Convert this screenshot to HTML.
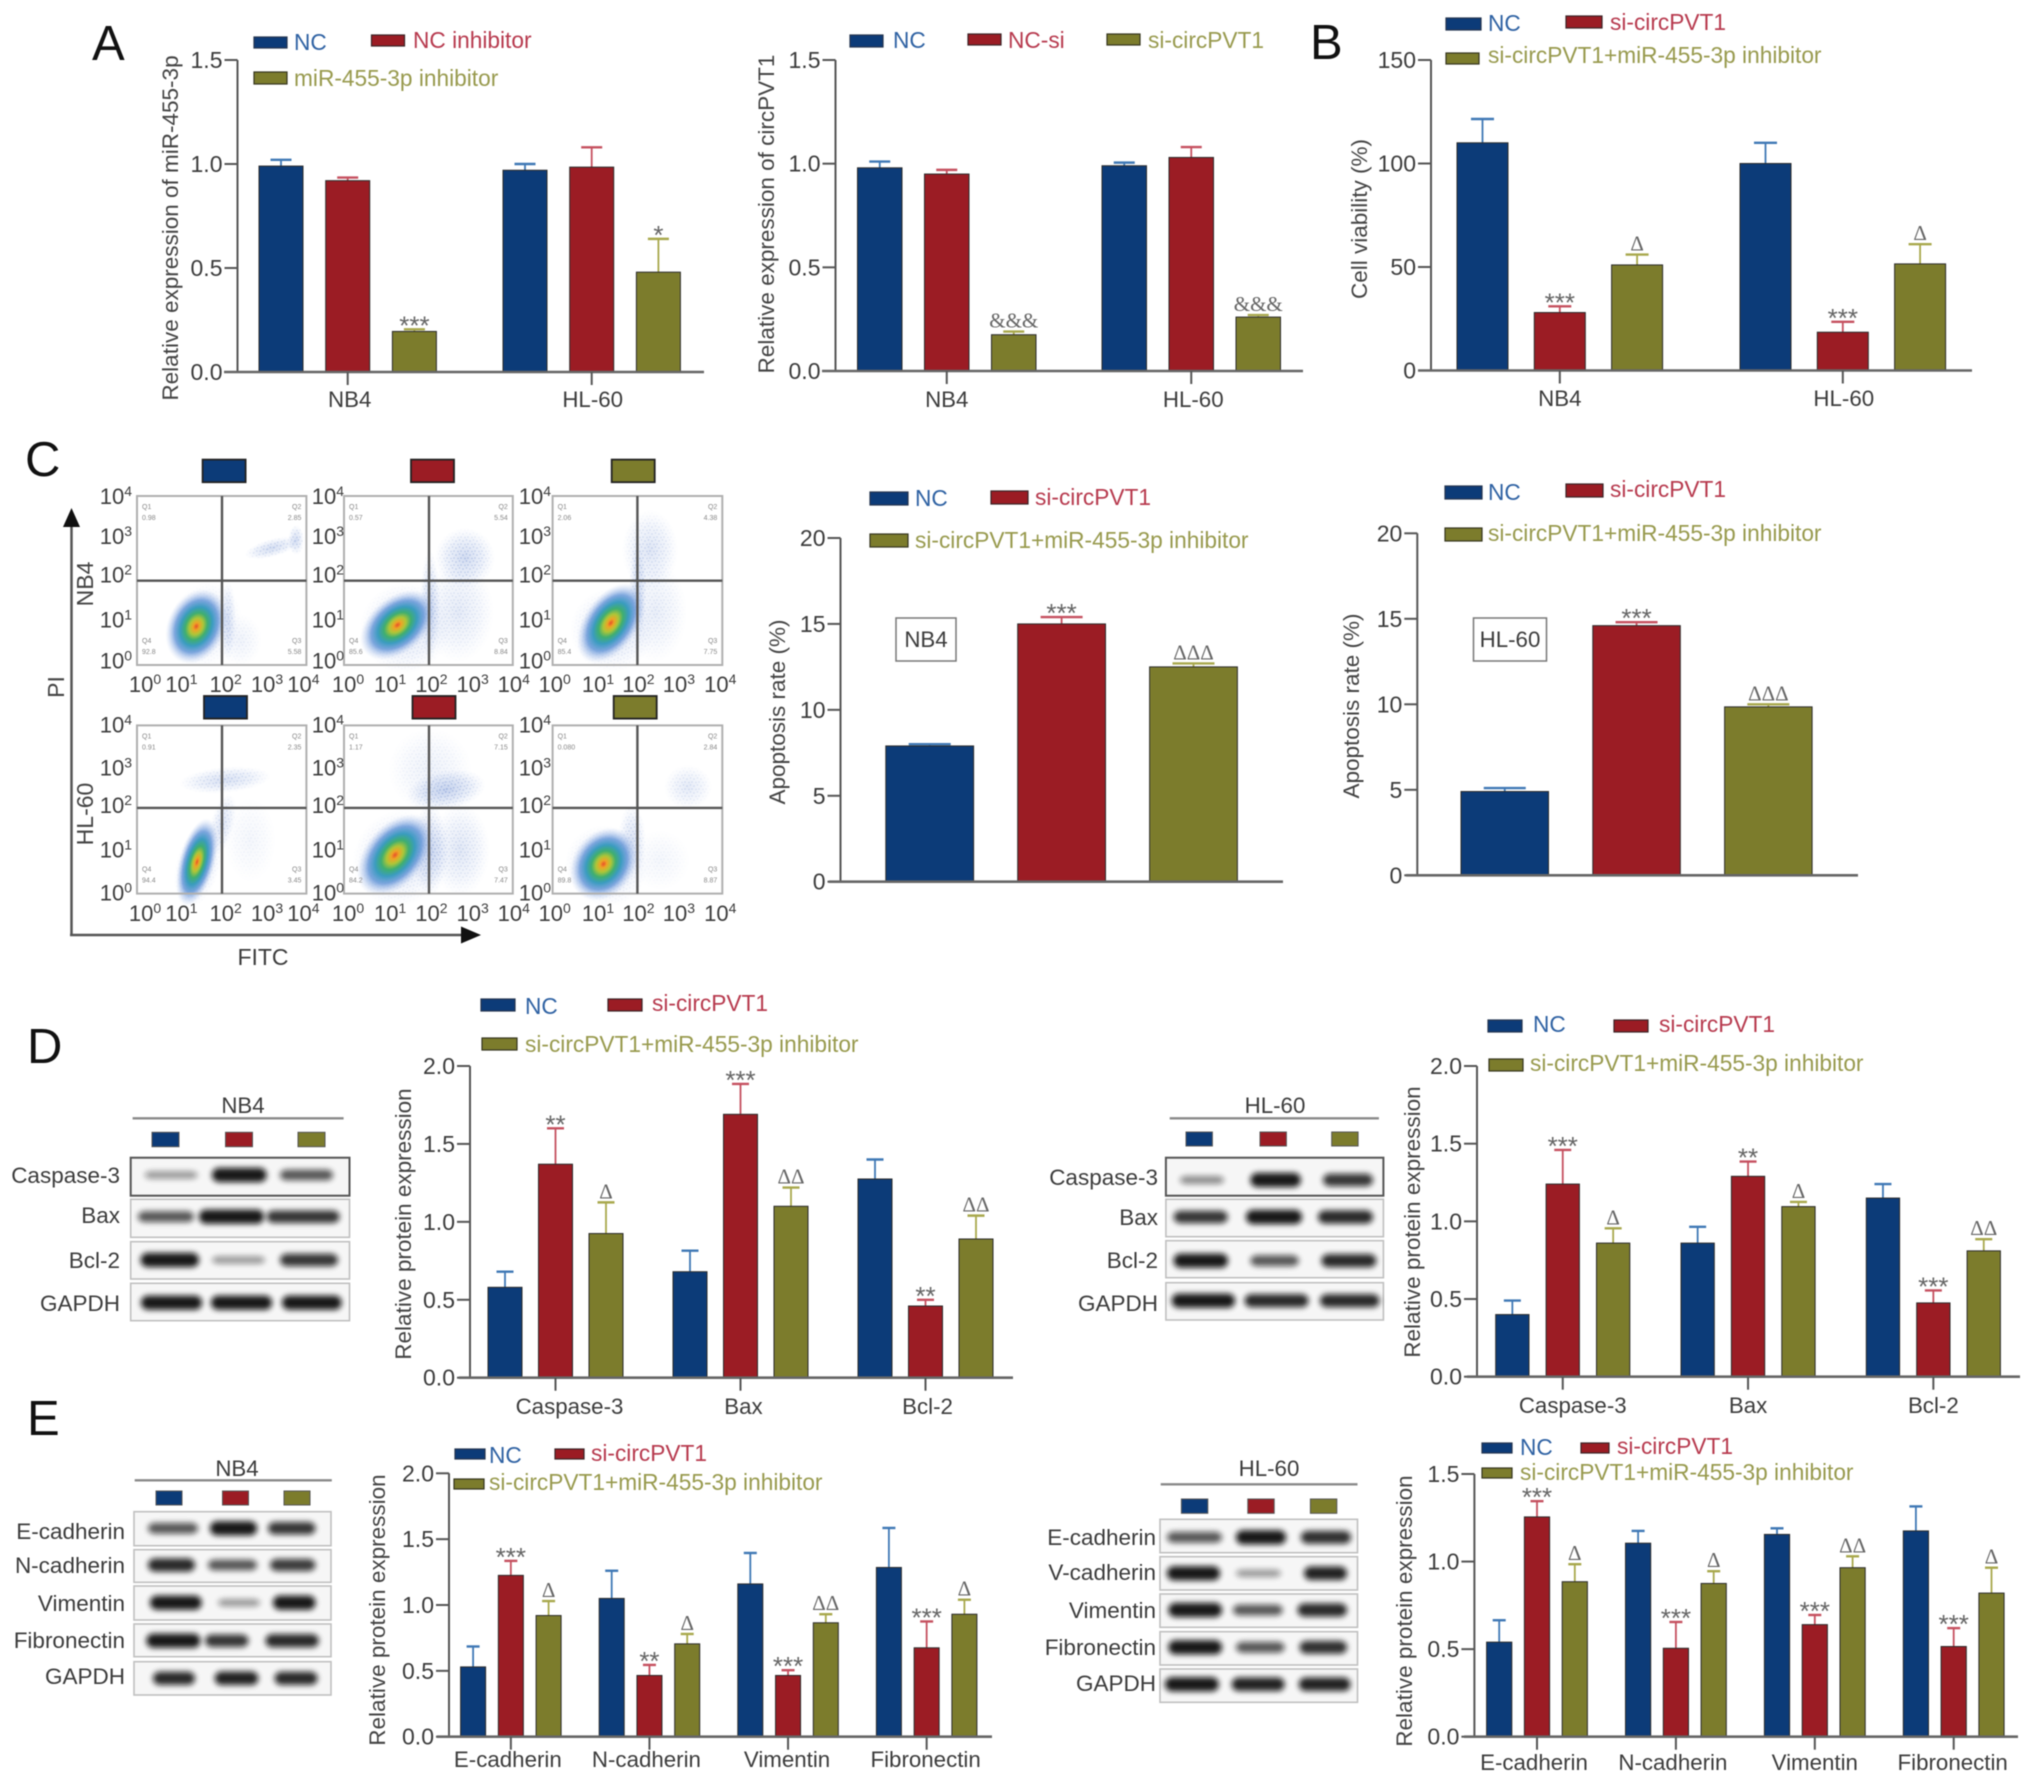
<!DOCTYPE html>
<html lang="en">
<head>
<meta charset="utf-8">
<title>circPVT1 / miR-455-3p multi-panel figure</title>
<style>
html,body{margin:0;padding:0;background:#fff;}
#fig{display:block;filter:blur(.6px);}
text{font-family:"Liberation Sans",sans-serif;fill:#3c3c3c;}
.letter{font-size:49px;fill:#111;}
.leg{font-size:22.7px;}
.lb{fill:#2f62a3;}
.lr{fill:#b73a4e;}
.lo{fill:#989a4e;}
.ytitle{font-size:22.5px;text-anchor:middle;fill:#444;}
.blot{font-size:22.5px;text-anchor:end;fill:#3c3c3c;}
.head{font-size:22.3px;text-anchor:middle;fill:#3c3c3c;}
.swb{fill:#0c3b78;stroke:#26364f;stroke-width:1.2;}
.swr{fill:#9b1c24;stroke:#3a2326;stroke-width:1.2;}
.swo{fill:#7c7c2c;stroke:#35351f;stroke-width:1.2;}
</style>
</head>
<body>
<svg id="fig" xmlns="http://www.w3.org/2000/svg" width="2032" height="1784" viewBox="0 0 2032 1784">
<defs>
<filter id="bandBlur" x="-20%" y="-100%" width="140%" height="300%"><feGaussianBlur stdDeviation="2.9"/></filter>
<radialGradient id="heat">
<stop offset="0" stop-color="#e8502a"/>
<stop offset=".1" stop-color="#eda526"/>
<stop offset=".22" stop-color="#aec638"/>
<stop offset=".36" stop-color="#3fae70"/>
<stop offset=".52" stop-color="#3a9cbf"/>
<stop offset=".7" stop-color="#5f92d6" stop-opacity=".8"/>
<stop offset=".86" stop-color="#9ab6e6" stop-opacity=".4"/>
<stop offset="1" stop-color="#c2d2f0" stop-opacity="0"/>
</radialGradient>
<radialGradient id="cloud">
<stop offset="0" stop-color="#7d9ad6" stop-opacity=".85"/>
<stop offset=".6" stop-color="#9cb3e2" stop-opacity=".45"/>
<stop offset="1" stop-color="#c2d0f0" stop-opacity="0"/>
</radialGradient>
<radialGradient id="fadeWhite">
<stop offset="0" stop-color="#fff"/>
<stop offset=".6" stop-color="#999"/>
<stop offset="1" stop-color="#000"/>
</radialGradient>
<mask id="cloudFade" maskContentUnits="objectBoundingBox"><rect width="1" height="1" fill="url(#fadeWhite)"/></mask>
<pattern id="speck" patternUnits="userSpaceOnUse" width="7" height="7">
<circle cx="1" cy="2" r=".8" fill="#5f80c8"/><circle cx="4.5" cy="1" r=".7" fill="#5f80c8"/><circle cx="6" cy="5" r=".8" fill="#5f80c8"/><circle cx="3" cy="5.5" r=".7" fill="#5f80c8"/>
</pattern>
</defs>
<rect width="2032" height="1784" fill="#fff"/>

<text class="letter" x="92" y="60">A</text>
<text class="letter" x="1310" y="59">B</text>
<text class="letter" x="25" y="476">C</text>
<text class="letter" x="27" y="1063">D</text>
<text class="letter" x="27" y="1435">E</text>

<!-- Legends -->
<g>
<rect class="swb" x="254" y="37" width="33" height="11"/><text class="leg lb" x="294" y="50">NC</text>
<rect class="swr" x="371.5" y="35" width="33" height="11"/><text class="leg lr" x="413" y="48">NC inhibitor</text>
<rect class="swo" x="254" y="72" width="33" height="12"/><text class="leg lo" x="294" y="86">miR-455-3p inhibitor</text>
</g>
<g>
<rect class="swb" x="850" y="35" width="33" height="12"/><text class="leg lb" x="893" y="48">NC</text>
<rect class="swr" x="968" y="34" width="33" height="11"/><text class="leg lr" x="1008" y="48">NC-si</text>
<rect class="swo" x="1107" y="34" width="33" height="11"/><text class="leg lo" x="1148" y="48">si-circPVT1</text>
</g>
<g>
<rect class="swb" x="1446" y="18" width="35" height="12"/><text class="leg lb" x="1488" y="31">NC</text>
<rect class="swr" x="1566" y="16" width="36" height="12"/><text class="leg lr" x="1610" y="30">si-circPVT1</text>
<rect class="swo" x="1446" y="53" width="33" height="11"/><text class="leg lo" x="1488" y="63">si-circPVT1+miR-455-3p inhibitor</text>
</g>
<g>
<rect class="swb" x="870" y="492" width="38" height="13"/><text class="leg lb" x="915" y="506">NC</text>
<rect class="swr" x="991" y="491" width="37" height="13"/><text class="leg lr" x="1035" y="505">si-circPVT1</text>
<rect class="swo" x="870" y="534" width="38" height="13"/><text class="leg lo" x="915" y="548">si-circPVT1+miR-455-3p inhibitor</text>
</g>
<g>
<rect class="swb" x="1445" y="486" width="37" height="13"/><text class="leg lb" x="1488" y="500">NC</text>
<rect class="swr" x="1566" y="484" width="37" height="13"/><text class="leg lr" x="1610" y="497">si-circPVT1</text>
<rect class="swo" x="1445" y="528" width="37" height="13"/><text class="leg lo" x="1488" y="541">si-circPVT1+miR-455-3p inhibitor</text>
</g>
<g>
<rect class="swb" x="481" y="999" width="34" height="12"/><text class="leg lb" x="525" y="1014">NC</text>
<rect class="swr" x="608" y="999" width="34" height="12"/><text class="leg lr" x="652" y="1011">si-circPVT1</text>
<rect class="swo" x="482" y="1038" width="35" height="12"/><text class="leg lo" x="525" y="1052">si-circPVT1+miR-455-3p inhibitor</text>
</g>
<g>
<rect class="swb" x="1488" y="1020" width="34" height="12"/><text class="leg lb" x="1533" y="1032">NC</text>
<rect class="swr" x="1614" y="1020" width="34" height="12"/><text class="leg lr" x="1659" y="1032">si-circPVT1</text>
<rect class="swo" x="1489" y="1059" width="34" height="12"/><text class="leg lo" x="1530" y="1071">si-circPVT1+miR-455-3p inhibitor</text>
</g>
<g>
<rect class="swb" x="455" y="1449" width="30" height="10"/><text class="leg lb" x="489" y="1463">NC</text>
<rect class="swr" x="555" y="1449" width="29" height="10"/><text class="leg lr" x="591" y="1461">si-circPVT1</text>
<rect class="swo" x="454" y="1479" width="30" height="10"/><text class="leg lo" x="489" y="1490">si-circPVT1+miR-455-3p inhibitor</text>
</g>
<g>
<rect class="swb" x="1482" y="1443" width="30" height="10"/><text class="leg lb" x="1520" y="1455">NC</text>
<rect class="swr" x="1581" y="1443" width="28" height="10"/><text class="leg lr" x="1617" y="1454">si-circPVT1</text>
<rect class="swo" x="1482" y="1468" width="30" height="10"/><text class="leg lo" x="1520" y="1480">si-circPVT1+miR-455-3p inhibitor</text>
</g>

<!-- Y-axis titles -->
<text class="ytitle" transform="translate(178,228) rotate(-90)">Relative expression of miR-455-3p</text>
<text class="ytitle" transform="translate(774,214) rotate(-90)">Relative expression of circPVT1</text>
<text class="ytitle" transform="translate(1367,219) rotate(-90)">Cell viability (%)</text>
<text class="ytitle" transform="translate(785,712) rotate(-90)">Apoptosis rate (%)</text>
<text class="ytitle" transform="translate(1359,706) rotate(-90)">Apoptosis rate (%)</text>
<text class="ytitle" transform="translate(411,1224) rotate(-90)">Relative protein expression</text>
<text class="ytitle" transform="translate(1420,1222) rotate(-90)">Relative protein expression</text>
<text class="ytitle" transform="translate(385,1610) rotate(-90)">Relative protein expression</text>
<text class="ytitle" transform="translate(1412,1611) rotate(-90)">Relative protein expression</text>

<!-- Cell-line boxes on apoptosis charts -->
<rect x="896" y="618" width="60" height="43" fill="#fff" stroke="#777" stroke-width="1.5"/>
<text class="head" x="926" y="647">NB4</text>
<rect x="1473.5" y="618" width="73" height="43" fill="#fff" stroke="#777" stroke-width="1.5"/>
<text class="head" x="1510" y="647">HL-60</text>

<!-- Flow cytometry labels and arrows -->
<g>
<line x1="71.5" y1="935" x2="71.5" y2="525" stroke="#555" stroke-width="2.5"/>
<polygon points="71.5,508 63,527 80,527" fill="#111"/>
<line x1="70" y1="935" x2="465" y2="935" stroke="#555" stroke-width="2.5"/>
<polygon points="481,935 461,926.5 461,943.5" fill="#111"/>
<text class="ytitle" style="font-size:23px" transform="translate(64,687) rotate(-90)">PI</text>
<text class="head" style="font-size:23px" x="263" y="965">FITC</text>
<text class="ytitle" style="font-size:23px" transform="translate(93,584) rotate(-90)">NB4</text>
<text class="ytitle" style="font-size:23px" transform="translate(93,814) rotate(-90)">HL-60</text>
</g>

<!-- Blot labels -->
<g>
<text class="head" x="243" y="1113">NB4</text>
<text class="blot" x="120" y="1183">Caspase-3</text>
<text class="blot" x="120" y="1223">Bax</text>
<text class="blot" x="120" y="1268">Bcl-2</text>
<text class="blot" x="120" y="1311">GAPDH</text>
</g>
<g>
<text class="head" x="1275" y="1113">HL-60</text>
<text class="blot" x="1158" y="1185">Caspase-3</text>
<text class="blot" x="1158" y="1225">Bax</text>
<text class="blot" x="1158" y="1268">Bcl-2</text>
<text class="blot" x="1158" y="1311">GAPDH</text>
</g>
<g>
<text class="head" x="237" y="1476">NB4</text>
<text class="blot" x="125" y="1539">E-cadherin</text>
<text class="blot" x="125" y="1573">N-cadherin</text>
<text class="blot" x="125" y="1611">Vimentin</text>
<text class="blot" x="125" y="1648">Fibronectin</text>
<text class="blot" x="125" y="1684">GAPDH</text>
</g>
<g>
<text class="head" x="1269" y="1476">HL-60</text>
<text class="blot" x="1156" y="1545">E-cadherin</text>
<text class="blot" x="1156" y="1580">V-cadherin</text>
<text class="blot" x="1156" y="1618">Vimentin</text>
<text class="blot" x="1156" y="1655">Fibronectin</text>
<text class="blot" x="1156" y="1691">GAPDH</text>
</g>

<g id="blots"></g>
<g id="flow"></g>
<g id="charts"></g>
</svg>

<script>
/* ---------- Chart data ---------- */
const groupLabelsCells = ['NB4', 'HL-60'];
const groupLabelsApoptosis = ['Caspase-3', 'Bax', 'Bcl-2'];
const groupLabelsEmt = ['E-cadherin', 'N-cadherin', 'Vimentin', 'Fibronectin'];

const a1Nc = [0.99, 0.97];
const a1NcErr = [0.03, 0.03];
const a1Inh = [0.92, 0.985];
const a1InhErr = [0.015, 0.095];
const a1Mir = [0.195, 0.48];
const a1MirErr = [0.01, 0.16];
const a1MirMarks = ['***', '*'];
const a1Ticks = [0, 0.5, 1, 1.5];

const a2Nc = [0.98, 0.99];
const a2NcErr = [0.03, 0.015];
const a2Si = [0.95, 1.03];
const a2SiErr = [0.02, 0.05];
const a2Circ = [0.175, 0.26];
const a2CircErr = [0.015, 0.01];
const a2CircMarks = ['&&&', '&&&'];
const a2Ticks = [0, 0.5, 1, 1.5];

const bNc = [110, 100];
const bNcErr = [11.5, 10];
const bSi = [28, 18.5];
const bSiErr = [3, 5];
const bSiMarks = ['***', '***'];
const bCombo = [51, 51.5];
const bComboErr = [5, 9.5];
const bComboMarks = ['Δ', 'Δ'];
const bTicks = [0, 50, 100, 150];

const c1Nc = [7.9];
const c1NcErr = [0.1];
const c1Si = [15];
const c1SiErr = [0.4];
const c1SiMarks = ['***'];
const c1Combo = [12.5];
const c1ComboErr = [0.2];
const c1ComboMarks = ['ΔΔΔ'];
const c1Ticks = [0, 5, 10, 15, 20];

const c2Nc = [4.9];
const c2NcErr = [0.2];
const c2Si = [14.6];
const c2SiErr = [0.2];
const c2SiMarks = ['***'];
const c2Combo = [9.85];
const c2ComboErr = [0.15];
const c2ComboMarks = ['ΔΔΔ'];
const c2Ticks = [0, 5, 10, 15, 20];

const d1Nc = [0.58, 0.68, 1.275];
const d1NcErr = [0.1, 0.135, 0.125];
const d1Si = [1.37, 1.69, 0.46];
const d1SiErr = [0.23, 0.195, 0.04];
const d1SiMarks = ['**', '***', '**'];
const d1Combo = [0.925, 1.1, 0.89];
const d1ComboErr = [0.2, 0.12, 0.15];
const d1ComboMarks = ['Δ', 'ΔΔ', 'ΔΔ'];
const d1Ticks = [0, 0.5, 1, 1.5, 2];

const d2Nc = [0.4, 0.86, 1.15];
const d2NcErr = [0.09, 0.105, 0.09];
const d2Si = [1.24, 1.29, 0.475];
const d2SiErr = [0.22, 0.095, 0.08];
const d2SiMarks = ['***', '**', '***'];
const d2Combo = [0.86, 1.095, 0.81];
const d2ComboErr = [0.095, 0.03, 0.075];
const d2ComboMarks = ['Δ', 'Δ', 'ΔΔ'];
const d2Ticks = [0, 0.5, 1, 1.5, 2];

const e1Nc = [0.53, 1.05, 1.16, 1.285];
const e1NcErr = [0.155, 0.21, 0.235, 0.3];
const e1Si = [1.225, 0.465, 0.465, 0.675];
const e1SiErr = [0.11, 0.08, 0.04, 0.2];
const e1SiMarks = ['***', '**', '***', '***'];
const e1Combo = [0.92, 0.705, 0.865, 0.93];
const e1ComboErr = [0.11, 0.075, 0.065, 0.11];
const e1ComboMarks = ['Δ', 'Δ', 'ΔΔ', 'Δ'];
const e1Ticks = [0, 0.5, 1, 1.5, 2];

const e2Nc = [0.54, 1.105, 1.155, 1.175];
const e2NcErr = [0.125, 0.07, 0.035, 0.14];
const e2Si = [1.255, 0.505, 0.64, 0.515];
const e2SiErr = [0.09, 0.15, 0.055, 0.105];
const e2SiMarks = ['***', '***', '***', '***'];
const e2Combo = [0.885, 0.875, 0.965, 0.82];
const e2ComboErr = [0.1, 0.07, 0.065, 0.145];
const e2ComboMarks = ['Δ', 'Δ', 'ΔΔ', 'Δ'];
const e2Ticks = [0, 0.5, 1, 1.5];

const flowExponents = ['0', '1', '2', '3', '4'];
const flowGates = [
  ['0.98', '2.85', '92.8', '5.58'],
  ['0.57', '5.54', '85.6', '8.84'],
  ['2.06', '4.38', '85.4', '7.75'],
  ['0.91', '2.35', '94.4', '3.45'],
  ['1.17', '7.15', '84.2', '7.47'],
  ['0.080', '2.84', '89.8', '8.87']
];

/* ---------- Helpers ---------- */
const NS = 'http://www.w3.org/2000/svg';
const fillColors = ['#0c3b78', '#9b1c24', '#7c7c2c'];
const errColors = ['#3f78b5', '#c5505f', '#a8a84c'];
const seriesNames = ['nc', 'treatment', 'combo'];

function mk(tag, attrs, parent) {
  const e = document.createElementNS(NS, tag);
  for (const k in attrs) e.setAttribute(k, attrs[k]);
  parent.appendChild(e);
  return e;
}

function drawChart(c) {
  const root = document.getElementById('charts');
  const g = mk('g', {}, root);
  
  

  const L = c.layout;
  const yScale = v => L.base - (v / c.yMax) * (L.base - L.top);
  const xScale = (cat, ser) => L.first + cat * L.groupStep + ser * L.barStep;

  const yAxis = mk('line', {x1: L.axisX, x2: L.axisX, y1: L.top, y2: L.base, stroke: '#555', 'stroke-width': 2}, g);
  
  

  c.ticks.forEach(t => {
    const y = yScale(t);
    const tick = mk('line', {x1: L.axisX - 13, x2: L.axisX, y1: y, y2: y, stroke: '#555', 'stroke-width': 2}, g);
    
    
    const lab = mk('text', {x: L.axisX - 15, y: y + 8, 'text-anchor': 'end', 'font-size': 23}, g);
    lab.textContent = t.toFixed(L.decimals);
    
    
  });

  c.values.forEach((series, s) => {
    series.forEach((v, i) => {
      const x = xScale(i, s);
      const top = v + c.errors[s][i];
      const cx = x + L.barW / 2;
      const stem = mk('line', {x1: cx, x2: cx, y1: yScale(v), y2: yScale(top), stroke: errColors[s], 'stroke-width': 1.8}, g);
      
      
      const cap = mk('line', {x1: cx - L.cap / 2, x2: cx + L.cap / 2, y1: yScale(top), y2: yScale(top), stroke: errColors[s], 'stroke-width': 2.4}, g);
      
      
      const bar = mk('rect', {x: x, y: yScale(v), width: L.barW, height: L.base - yScale(v), fill: fillColors[s], stroke: '#2b2b2b', 'stroke-width': 1}, g);
      
      
      const m = c.marks[s] ? c.marks[s][i] : '';
      if (m) {
        const isStar = m.charAt(0) === '*';
        const attrs = {x: cx, y: yScale(top) + (isStar ? 5 : -4), 'text-anchor': 'middle', 'font-size': isStar ? 26 : 21};
        const mark = mk('text', attrs, g);
        mark.textContent = m;
        mark.style.fill = '#666';
        if (!isStar) mark.style.fontFamily = '"Liberation Serif", serif';
        
        
      }
    });
  });

  const xAxis = mk('line', {x1: L.baseStart, x2: L.baseEnd, y1: L.base, y2: L.base, stroke: '#666', 'stroke-width': 2.6}, g);
  
  

  (c.categories || []).forEach((name, i) => {
    const x = xScale(i, 1) + L.barW / 2;
    const tick = mk('line', {x1: x, x2: x, y1: L.base, y2: L.base + 13, stroke: '#555', 'stroke-width': 2}, g);
    
    
    const lab = mk('text', {x: x + (L.labelDx ? L.labelDx[i] : 0), y: L.labelY, 'text-anchor': 'middle', 'font-size': 22.3}, g);
    lab.textContent = name;
    
    
  });
}

/* ---------- Charts ---------- */
drawChart({id: 'a1', categories: groupLabelsCells, values: [a1Nc, a1Inh, a1Mir], errors: [a1NcErr, a1InhErr, a1MirErr], marks: [null, null, a1MirMarks], yMax: 1.5, ticks: a1Ticks,
  layout: {axisX: 237.5, top: 60, base: 372, first: 259, barW: 44, barStep: 66.7, groupStep: 244, cap: 21, baseStart: 224, baseEnd: 704, decimals: 1, labelY: 407, labelDx: [2, 1]}});
drawChart({id: 'a2', categories: groupLabelsCells, values: [a2Nc, a2Si, a2Circ], errors: [a2NcErr, a2SiErr, a2CircErr], marks: [null, null, a2CircMarks], yMax: 1.5, ticks: a2Ticks,
  layout: {axisX: 835.5, top: 60, base: 371, first: 857.5, barW: 44.5, barStep: 67, groupStep: 244.5, cap: 21, baseStart: 822, baseEnd: 1303, decimals: 1, labelY: 407, labelDx: [0, 2]}});
drawChart({id: 'b', categories: groupLabelsCells, values: [bNc, bSi, bCombo], errors: [bNcErr, bSiErr, bComboErr], marks: [null, bSiMarks, bComboMarks], yMax: 150, ticks: bTicks,
  layout: {axisX: 1431, top: 60, base: 370.5, first: 1457, barW: 51, barStep: 77.3, groupStep: 283, cap: 23, baseStart: 1418, baseEnd: 1972, decimals: 0, labelY: 406, labelDx: [0, 1]}});
drawChart({id: 'c1', values: [c1Nc, c1Si, c1Combo], errors: [c1NcErr, c1SiErr, c1ComboErr], marks: [null, c1SiMarks, c1ComboMarks], yMax: 20, ticks: c1Ticks,
  layout: {axisX: 840.5, top: 538, base: 881.7, first: 885.8, barW: 87.8, barStep: 131.9, groupStep: 0, cap: 42, baseStart: 829, baseEnd: 1283, decimals: 0}});
drawChart({id: 'c2', values: [c2Nc, c2Si, c2Combo], errors: [c2NcErr, c2SiErr, c2ComboErr], marks: [null, c2SiMarks, c2ComboMarks], yMax: 20, ticks: c2Ticks,
  layout: {axisX: 1417.3, top: 533.3, base: 875.3, first: 1461, barW: 87.5, barStep: 131.8, groupStep: 0, cap: 42, baseStart: 1406, baseEnd: 1858, decimals: 0}});
drawChart({id: 'd1', categories: groupLabelsApoptosis, values: [d1Nc, d1Si, d1Combo], errors: [d1NcErr, d1SiErr, d1ComboErr], marks: [null, d1SiMarks, d1ComboMarks], yMax: 2, ticks: d1Ticks,
  layout: {axisX: 470, top: 1066, base: 1377.7, first: 488, barW: 34, barStep: 50.5, groupStep: 185, cap: 17, baseStart: 459, baseEnd: 1013, decimals: 1, labelY: 1414, labelDx: [14, 3, 2]}});
drawChart({id: 'd2', categories: groupLabelsApoptosis, values: [d2Nc, d2Si, d2Combo], errors: [d2NcErr, d2SiErr, d2ComboErr], marks: [null, d2SiMarks, d2ComboMarks], yMax: 2, ticks: d2Ticks,
  layout: {axisX: 1477, top: 1066, base: 1376.7, first: 1495.7, barW: 33.3, barStep: 50.4, groupStep: 185.3, cap: 17, baseStart: 1467, baseEnd: 2020, decimals: 1, labelY: 1413, labelDx: [10, 0, 0]}});
drawChart({id: 'e1', categories: groupLabelsEmt, values: [e1Nc, e1Si, e1Combo], errors: [e1NcErr, e1SiErr, e1ComboErr], marks: [null, e1SiMarks, e1ComboMarks], yMax: 2, ticks: e1Ticks,
  layout: {axisX: 449, top: 1473.3, base: 1736.7, first: 460.6, barW: 25, barStep: 37.75, groupStep: 138.6, cap: 13, baseStart: 437, baseEnd: 992, decimals: 1, labelY: 1767, labelDx: [-3, -3, -1, -1]}});
drawChart({id: 'e2', categories: groupLabelsEmt, values: [e2Nc, e2Si, e2Combo], errors: [e2NcErr, e2SiErr, e2ComboErr], marks: [null, e2SiMarks, e2ComboMarks], yMax: 1.5, ticks: e2Ticks,
  layout: {axisX: 1474.4, top: 1474, base: 1736.7, first: 1486.6, barW: 25.2, barStep: 37.8, groupStep: 138.9, cap: 13, baseStart: 1464, baseEnd: 2018, decimals: 1, labelY: 1770, labelDx: [-3, -3, 0, -1]}});

/* ---------- Western blots (image-like panels) ---------- */
const blots = [
  {id: 'd-nb4', x1: 130.7, x2: 349.5, line: [132.6, 343.6, 1118.3], sq: [[152, 27], [225.5, 27], [298, 27]], sqY: [1132.3, 14.4], darkFirst: true,
   rows: [[1157.7, 1195.7, 1175, [[144.6, 197.6, 1], [212, 266.6, 3], [280, 333, 2]]],
          [1199.3, 1237.3, 1216.7, [[138, 194, 2], [199, 264, 3], [266.6, 339.6, 2.5]]],
          [1241.7, 1279, 1260, [[140.6, 199, 3], [212, 265, 1], [280, 338, 2.5]]],
          [1283.3, 1320.7, 1302.7, [[141, 202, 3], [211, 272, 3], [282, 341.6, 3]]]]},
  {id: 'd-hl60', x1: 1165.9, x2: 1383.4, line: [1169.7, 1378.9, 1118.3], sq: [[1186, 26.4], [1260, 26.4], [1331.7, 26.4]], sqY: [1132, 14], darkFirst: true,
   rows: [[1157.7, 1195.7, 1180, [[1180, 1224, 1.2], [1250.4, 1300.8, 3], [1323, 1373, 2.5]]],
          [1199.3, 1236.7, 1217, [[1173.6, 1227.8, 2.5], [1246, 1302, 3], [1318, 1373, 2.7]]],
          [1240.7, 1277.7, 1260.7, [[1173.6, 1228, 3], [1250.4, 1298.8, 2], [1321.4, 1376.3, 2.7]]],
          [1282.7, 1320, 1300.7, [[1171.7, 1235, 3], [1244.6, 1308.5, 2.7], [1320, 1379.5, 2.7]]]]},
  {id: 'e-nb4', x1: 134, x2: 331, line: [134.7, 331.8, 1480.3], sq: [[156, 26], [222.5, 26], [284, 26]], sqY: [1491, 14],
   rows: [[1511.7, 1545.7, 1528.3, [[148, 198, 2], [210, 257, 3], [268, 315.5, 2.5]]],
          [1549.7, 1582.3, 1565, [[148, 195, 2.7], [208, 257, 2], [270, 315.5, 2.4]]],
          [1586, 1620, 1602.7, [[150, 201.7, 3], [218, 260, 1], [273, 315.5, 3]]],
          [1624, 1656.7, 1640.7, [[146.4, 200.4, 3], [205, 248.5, 2.5], [265.5, 318.8, 2.7]]],
          [1661.7, 1695, 1678.3, [[153, 195, 2.7], [214.7, 258.3, 2.8], [274.6, 317.5, 2.7]]]]},
  {id: 'e-hl60', x1: 1160, x2: 1357.5, line: [1160.7, 1357.5, 1484.3], sq: [[1181.4, 26.4], [1247.8, 26.4], [1310.4, 26.4]], sqY: [1499, 14.3],
   rows: [[1519.3, 1552.7, 1537.3, [[1167, 1222, 2], [1236, 1286, 3], [1300.8, 1351, 2.6]]],
          [1556.7, 1590, 1573.3, [[1167, 1220, 3], [1236, 1281, 1], [1304, 1347, 2.8]]],
          [1594, 1627.3, 1610, [[1168.4, 1222, 3], [1233, 1282.7, 2], [1297.5, 1347, 2.7]]],
          [1631.7, 1665, 1647.3, [[1168.4, 1222, 3], [1236, 1284.6, 2], [1299.5, 1347, 2.6]]],
          [1669, 1702.3, 1684.3, [[1165, 1218.8, 3], [1231.7, 1284.6, 2.8], [1298.8, 1350.5, 2.8]]]]}
];

blots.forEach(b => {
  const root = document.getElementById('blots');
  const g = mk('g', {}, root);
  
  
  const rule = mk('line', {x1: b.line[0], x2: b.line[1], y1: b.line[2], y2: b.line[2], stroke: '#8a8a8a', 'stroke-width': 2.4}, g);
  
  
  b.sq.forEach((s, i) => {
    const sq = mk('rect', {x: s[0], y: b.sqY[0], width: s[1], height: b.sqY[1], fill: fillColors[i], stroke: '#555', 'stroke-width': 1}, g);
    
    
  });
  b.rows.forEach((r, ri) => {
    const dark = b.darkFirst && ri === 0;
    const panel = mk('rect', {x: b.x1, y: r[0], width: b.x2 - b.x1, height: r[1] - r[0], fill: '#f6f6f6', stroke: dark ? '#555' : '#c0c0c0', 'stroke-width': dark ? 2 : 1.6}, g);
    
    
    r[3].forEach(bd => {
      const h = 4 + bd[2] * 3.4;
      const op = Math.min(.95, 0.12 + bd[2] * 0.28);
      const band = mk('rect', {x: bd[0], y: r[2] - h / 2, width: bd[1] - bd[0], height: h, rx: 7, fill: '#0c0c0c', opacity: op, filter: 'url(#bandBlur)'}, g);
      
      
    });
  });
});

/* ---------- Flow cytometry plots (density image panels) ---------- */
const flowPlots = [
  {x: 137, w: 169.4, y: 496, h: 169, cx: 222, cy: 580.7, labelEnd: 131, xOff: [8, 2, 4, 3, -3], yLab: [496, 536, 574.6, 619.3, 660.4], labelY: 692,
   heat: [196.3, 626.4, 29, 39, 25], clouds: [[272, 548, 28, 9, -15, .4], [296, 540, 8, 15, 0, .4], [240, 640, 22, 26, 0, .14], [228, 620, 8, 40, 0, .3], [205, 625, 36, 44, 20, .25]]},
  {x: 344, w: 168.8, y: 496, h: 169, cx: 429, cy: 580.7, labelEnd: 343, xOff: [4, 4, 3, 2, 1], yLab: [496, 536, 574.6, 619.3, 660.4], labelY: 692,
   heat: [397.5, 625, 28, 43, 50], clouds: [[465, 558, 30, 30, 0, .42], [458, 612, 36, 50, 0, .24], [430, 605, 10, 55, 0, .42], [405, 628, 45, 46, 45, .3]]},
  {x: 552.6, w: 169.7, y: 496, h: 169, cx: 637.4, cy: 580.7, labelEnd: 550, xOff: [2, 3, 1, -1, -2], yLab: [496, 536, 574.6, 619.3, 660.4], labelY: 692,
   heat: [610.8, 623, 27, 45, 35], clouds: [[650, 550, 28, 40, 0, .3], [655, 612, 32, 50, 0, .2], [638, 590, 9, 50, 0, .38], [612, 630, 42, 42, 35, .3]]},
  {x: 137, w: 169.4, y: 725.4, h: 168.2, cx: 222, cy: 807.9, labelEnd: 131, xOff: [8, 2, 4, 3, -3], yLab: [724.6, 767.5, 805, 849.6, 892.5], labelY: 921,
   heat: [197, 862, 18, 45, 15], clouds: [[225, 780, 46, 13, -5, .36], [222, 825, 12, 32, 15, .32], [250, 840, 26, 42, 0, .1], [198, 865, 22, 44, 15, .35]]},
  {x: 344, w: 168.8, y: 725.4, h: 168.2, cx: 429, cy: 807.9, labelEnd: 343, xOff: [4, 4, 3, 2, 1], yLab: [724.6, 767.5, 805, 849.6, 892.5], labelY: 921,
   heat: [395, 855, 30, 47, 40], clouds: [[446, 790, 40, 20, -10, .5], [430, 850, 18, 46, 0, .45], [460, 850, 30, 46, 0, .28], [430, 770, 42, 42, 0, .16], [400, 858, 46, 50, 40, .3]]},
  {x: 552.6, w: 169.7, y: 725.4, h: 168.2, cx: 637.4, cy: 807.9, labelEnd: 550, xOff: [2, 3, 1, -1, -2], yLab: [724.6, 767.5, 805, 849.6, 892.5], labelY: 921,
   heat: [603.5, 864, 31, 39, 35], clouds: [[688, 787, 24, 22, 0, .25], [660, 860, 30, 30, 0, .1], [632, 842, 14, 38, 0, .35], [606, 866, 42, 40, 35, .3]]}
];

flowPlots.forEach((p, idx) => {
  const root = document.getElementById('flow');
  const g = mk('g', {}, root);
  
  
  p.clouds.forEach(c => {
    const tf = 'rotate(' + c[4] + ' ' + c[0] + ' ' + c[1] + ')';
    const cloud = mk('ellipse', {cx: c[0], cy: c[1], rx: c[2], ry: c[3], fill: 'url(#cloud)', opacity: c[5], transform: tf}, g);
    
    
    const speck = mk('rect', {x: c[0] - c[2], y: c[1] - c[3], width: 2 * c[2], height: 2 * c[3], fill: 'url(#speck)', mask: 'url(#cloudFade)', opacity: c[5], transform: tf}, g);
    
    
  });
  const h = p.heat;
  const heat = mk('ellipse', {cx: h[0], cy: h[1], rx: h[2], ry: h[3], fill: 'url(#heat)', transform: 'rotate(' + h[4] + ' ' + h[0] + ' ' + h[1] + ')'}, g);
  
  
  const frame = mk('rect', {x: p.x, y: p.y, width: p.w, height: p.h, fill: 'none', stroke: '#b0b0b0', 'stroke-width': 2}, g);
  
  
  const vGate = mk('line', {x1: p.cx, x2: p.cx, y1: p.y, y2: p.y + p.h, stroke: '#555', 'stroke-width': 2.4}, g);
  
  
  const hGate = mk('line', {x1: p.x, x2: p.x + p.w, y1: p.cy, y2: p.cy, stroke: '#555', 'stroke-width': 2.4}, g);
  
  

  flowExponents.forEach((ex, k) => {
    const xl = mk('text', {x: p.x + k * p.w / 4 + p.xOff[k], y: p.labelY, 'text-anchor': 'middle', 'font-size': 22}, g);
    
    
    xl.appendChild(document.createTextNode('10'));
    const xs = mk('tspan', {dy: -8, 'font-size': 14}, xl);
    xs.textContent = ex;
    const yl = mk('text', {x: p.labelEnd + 1, y: p.yLab[4 - k] + 8, 'text-anchor': 'end', 'font-size': 22}, g);
    
    
    yl.appendChild(document.createTextNode('10'));
    const ys = mk('tspan', {dy: -8, 'font-size': 14}, yl);
    ys.textContent = ex;
  });

  const gates = flowGates[idx];
  const spots = [[p.x + 5, p.y + 13, 'start', 'Q1'], [p.x + p.w - 5, p.y + 13, 'end', 'Q2'], [p.x + 5, p.y + p.h - 22, 'start', 'Q4'], [p.x + p.w - 5, p.y + p.h - 22, 'end', 'Q3']];
  const order = [0, 1, 2, 3];
  order.forEach(q => {
    const s = spots[q];
    const gateName = mk('text', {x: s[0], y: s[1], 'text-anchor': s[2], 'font-size': 7}, g);
    gateName.textContent = s[3];
    gateName.style.fill = '#888';
    
    
    const gateVal = mk('text', {x: s[0], y: s[1] + 11, 'text-anchor': s[2], 'font-size': 7}, g);
    gateVal.textContent = gates[q];
    gateVal.style.fill = '#888';
    
    
  });
});

const flowKeyRows = [[459.6, [202.6, 411, 611.7]], [696, [204, 412.5, 613.7]]];
flowKeyRows.forEach(row => {
  row[1].forEach((x, i) => {
    const key = mk('rect', {x: x, y: row[0], width: 43, height: 22.6, fill: fillColors[i], stroke: '#222', 'stroke-width': 1.8}, document.getElementById('flow'));
    
    
  });
});
</script>
</body>
</html>
